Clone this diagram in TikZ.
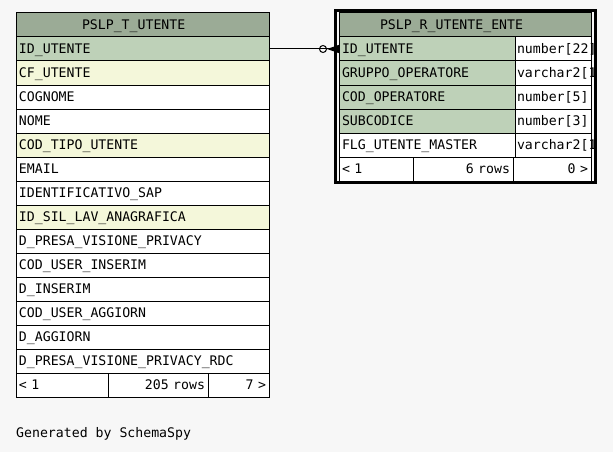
\documentclass[tikz,border=0pt]{standalone}
\usepackage{fontspec}
\newfontfamily\schemafont{DejaVu Sans Mono}
\usepackage{tikz}
\usetikzlibrary{arrows.meta,positioning}
\usepackage{xcolor}
\definecolor{Sfondo}{RGB}{247,247,247}
\definecolor{Testata}{RGB}{155,171,150}
\definecolor{Chiave}{RGB}{190,209,184}
\definecolor{Indice}{RGB}{244,247,218}
\tikzset{
  cell/.style={draw, line width=1pt, rectangle, anchor=north west, outer sep=0pt,
    minimum height=24pt, inner xsep=3pt, inner ysep=0pt, text height=10.6pt, text depth=0.8pt,
    fill=white, font=\schemafont\fontsize{13.2}{15}\selectfont},
  leftcell/.style={cell, text width=#1, align=left},
  rightcell/.style={cell, text width=#1, align=right},
  typecell/.style={cell, inner xsep=2pt, text width=72pt, align=left}
}

\begin{document}
\begin{tikzpicture}[x=1pt,y=-1pt]
\fill[Sfondo] (0,0) rectangle (613,452);
\useasboundingbox (0,0) rectangle (613,452);
%
% PSLP_T_UTENTE
\node[leftcell=247pt, fill=Testata] (tuHead) at (16,13) {\hspace*{63pt}PSLP\_T\_UTENTE};
\node[leftcell=247pt, fill=Chiave] (tuId) at (16,37) {ID\_UTENTE};
\node[leftcell=247pt, fill=Indice] (tuCf) at (16,61) {CF\_UTENTE};
\node[leftcell=247pt] (tuCognome) at (16,85) {COGNOME};
\node[leftcell=247pt] (tuNome) at (16,109) {NOME};
\node[leftcell=247pt, fill=Indice] (tuTipo) at (16,133) {COD\_TIPO\_UTENTE};
\node[leftcell=247pt] (tuEmail) at (16,157) {EMAIL};
\node[leftcell=247pt] (tuSap) at (16,181) {IDENTIFICATIVO\_SAP};
\node[leftcell=247pt, fill=Indice] (tuSil) at (16,205) {ID\_SIL\_LAV\_ANAGRAFICA};
\node[leftcell=247pt] (tuPrivacy) at (16,229) {D\_PRESA\_VISIONE\_PRIVACY};
\node[leftcell=247pt] (tuUserIns) at (16,253) {COD\_USER\_INSERIM};
\node[leftcell=247pt] (tuInserim) at (16,277) {D\_INSERIM};
\node[leftcell=247pt] (tuUserAgg) at (16,301) {COD\_USER\_AGGIORN};
\node[leftcell=247pt] (tuAggiorn) at (16,325) {D\_AGGIORN};
\node[leftcell=247pt] (tuPrivacyRdc) at (16,349) {D\_PRESA\_VISIONE\_PRIVACY\_RDC};
\node[leftcell=86pt] (tuPrev) at (16,373) {< 1};
\node[rightcell=94pt] (tuRows) at (108,373) {205 rows};
\node[rightcell=55pt] (tuNext) at (208,373) {7 >};
%
% PSLP_R_UTENTE_ENTE
\begin{scope}
\clip (334,9) rectangle (597,184);
\node[leftcell=246pt, fill=Testata] (ueHead) at (339,13) {\hspace*{38pt}PSLP\_R\_UTENTE\_ENTE};
\node[leftcell=170pt, fill=Chiave] (ueId) at (339,37) {ID\_UTENTE};
\node[typecell] (ueIdType) at (515,37) {number[22]};
\node[leftcell=170pt, fill=Chiave] (ueGruppo) at (339,61) {GRUPPO\_OPERATORE};
\node[typecell] (ueGruppoType) at (515,61) {varchar2[1]};
\node[leftcell=170pt, fill=Chiave] (ueCod) at (339,85) {COD\_OPERATORE};
\node[typecell] (ueCodType) at (515,85) {number[5]};
\node[leftcell=170pt, fill=Chiave] (ueSub) at (339,109) {SUBCODICE};
\node[typecell] (ueSubType) at (515,109) {number[3]};
\node[leftcell=170pt] (ueMaster) at (339,133) {FLG\_UTENTE\_MASTER};
\node[typecell] (ueMasterType) at (515,133) {varchar2[1]};
\node[leftcell=68pt] (uePrev) at (339,157) {< 1};
\node[rightcell=94pt] (ueRows) at (413,157) {6 rows};
\node[rightcell=72pt] (ueNext) at (513,157) {0 >};
\end{scope}
%
\draw[line width=1pt, -{Circle[open,length=8pt,width=8pt,sep=0pt]Triangle[reversed,length=12pt,width=8pt]}] (tuId.east) -- (ueId.west);
\draw[line width=3pt] (335.5,10.5) rectangle (595.5,182.5);
%
\node[anchor=base west, inner sep=0pt, font=\schemafont\fontsize{13.2}{15}\selectfont] (credito) at (16,437) {Generated by SchemaSpy};
\end{tikzpicture}
\end{document}
